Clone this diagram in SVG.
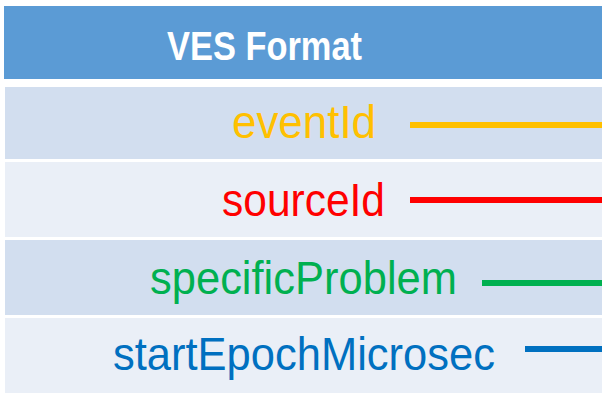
<svg xmlns="http://www.w3.org/2000/svg" width="602" height="396" viewBox="0 0 602 396">
<style>
.lbl{font-family:"Liberation Sans",Arial,sans-serif;font-size:46px;text-anchor:end}
.conn{stroke-width:6;fill:none}
</style>
<rect width="602" height="396" fill="#ffffff"/>
<g id="header">
<rect x="4" y="6" width="598" height="73" fill="#5b9bd5"/>
<text x="264.5" y="60" font-family="'Liberation Sans',Arial,sans-serif" font-size="40" font-weight="bold" fill="#ffffff" text-anchor="middle" textLength="195" lengthAdjust="spacingAndGlyphs">VES Format</text>
</g>
<g id="row-eventId">
<rect x="5" y="87" width="597" height="72" fill="#d2deef"/>
<text class="lbl" x="376" y="138" fill="#ffc000" textLength="144" lengthAdjust="spacingAndGlyphs">eventId</text>
</g>
<g id="row-sourceId">
<rect x="5" y="162" width="597" height="75" fill="#eaeff7"/>
<text class="lbl" x="385" y="216" fill="#ff0000" textLength="163" lengthAdjust="spacingAndGlyphs">sourceId</text>
</g>
<g id="row-specificProblem">
<rect x="5" y="240" width="597" height="75" fill="#d2deef"/>
<text class="lbl" x="457" y="294" fill="#00b050" textLength="307" lengthAdjust="spacingAndGlyphs">specificProblem</text>
</g>
<g id="row-startEpochMicrosec">
<rect x="5" y="318" width="597" height="75" fill="#eaeff7"/>
<text class="lbl" x="495" y="370" fill="#0070c0" textLength="382" lengthAdjust="spacingAndGlyphs">startEpochMicrosec</text>
</g>
<g id="connectors">
<line class="conn" x1="410" y1="125" x2="602" y2="125" stroke="#ffc000"/>
<line class="conn" x1="410" y1="200" x2="602" y2="200" stroke="#ff0000"/>
<line class="conn" x1="482" y1="283" x2="602" y2="283" stroke="#00b050"/>
<line class="conn" x1="525" y1="349" x2="602" y2="349" stroke="#0070c0"/>
</g>
</svg>
